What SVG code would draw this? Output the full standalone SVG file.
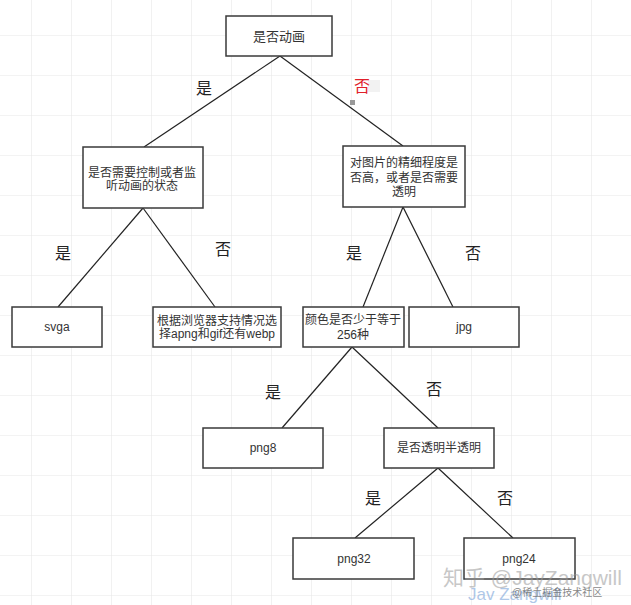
<svg xmlns="http://www.w3.org/2000/svg" width="631" height="605" viewBox="0 0 631 605">
<defs>
  <pattern id="grid" x="31" y="35" width="40" height="40" patternUnits="userSpaceOnUse">
    <path d="M0 0 H40 M0 0 V40" fill="none" stroke="#e8e8e8" stroke-width="1.2"/>
  </pattern>
</defs>
<style>
  .box { fill: #ffffff; stroke: #3a3a3a; stroke-width: 1.5; }
  .t { font-family: "Liberation Sans", "Noto Sans CJK SC", sans-serif; font-size: 12px; fill: #333; text-anchor: middle; }
  .lbl { font-family: "Noto Sans CJK SC", sans-serif; font-size: 16px; fill: #222; text-anchor: middle; }
  .edge { stroke: #222; stroke-width: 1.2; fill: none; }
</style>
<rect width="631" height="605" fill="#ffffff"/>
<rect width="631" height="605" fill="url(#grid)"/>

<g id="connectors">
  <line class="edge" x1="280" y1="56" x2="144" y2="147"/>
  <line class="edge" x1="280" y1="56" x2="403" y2="146"/>
  <line class="edge" x1="143" y1="208" x2="58" y2="307"/>
  <line class="edge" x1="143" y1="208" x2="215" y2="307"/>
  <line class="edge" x1="403" y1="207" x2="363" y2="307"/>
  <line class="edge" x1="403" y1="207" x2="453" y2="307"/>
  <line class="edge" x1="352" y1="347" x2="282" y2="428"/>
  <line class="edge" x1="352" y1="347" x2="438" y2="428"/>
  <line class="edge" x1="438" y1="468" x2="355" y2="538"/>
  <line class="edge" x1="438" y1="468" x2="513" y2="538"/>
  <text class="lbl" x="204" y="94">是</text>
  <rect x="350" y="100" width="5" height="5" fill="#999"/>
  <rect x="368" y="80" width="12" height="12" fill="#f2f2f2"/>
  <text class="lbl" x="362" y="92" style="fill:#e0202a">否</text>
  <text class="lbl" x="63" y="259">是</text>
  <text class="lbl" x="223" y="255">否</text>
  <text class="lbl" x="354" y="259">是</text>
  <text class="lbl" x="473" y="259">否</text>
  <text class="lbl" x="273" y="398">是</text>
  <text class="lbl" x="434" y="395">否</text>
  <text class="lbl" x="373" y="504">是</text>
  <text class="lbl" x="505" y="504">否</text>
</g>

<g id="n-animated">
  <rect class="box" x="226" y="16" width="106" height="40"/>
  <text class="t" x="279" y="41" style="font-size:13px">是否动画</text>
</g>
<g id="n-control">
  <rect class="box" x="83" y="147" width="120" height="61"/>
  <text class="t" x="142" y="177">是否需要控制或者监</text>
  <text class="t" x="142" y="190">听动画的状态</text>
</g>
<g id="n-fine">
  <rect class="box" x="343" y="146" width="122" height="61"/>
  <text class="t" x="404" y="167">对图片的精细程度是</text>
  <text class="t" x="404" y="182">否高，或者是否需要</text>
  <text class="t" x="404" y="196">透明</text>
</g>
<g id="n-svga">
  <rect class="box" x="12" y="307" width="90" height="40"/>
  <text class="t" x="57" y="331">svga</text>
</g>
<g id="n-browser">
  <rect class="box" x="153" y="307" width="128" height="40"/>
  <text class="t" x="217" y="325">根据浏览器支持情况选</text>
  <text class="t" x="217" y="338">择apng和gif还有webp</text>
</g>
<g id="n-colors">
  <rect class="box" x="303" y="307" width="101" height="40"/>
  <text class="t" x="353" y="324">颜色是否少于等于</text>
  <text class="t" x="353" y="339">256种</text>
</g>
<g id="n-jpg">
  <rect class="box" x="409" y="307" width="110" height="40"/>
  <text class="t" x="464" y="331">jpg</text>
</g>
<g id="n-png8">
  <rect class="box" x="203" y="428" width="120" height="40"/>
  <text class="t" x="263" y="452">png8</text>
</g>
<g id="n-alpha">
  <rect class="box" x="384" y="428" width="110" height="40"/>
  <text class="t" x="439" y="452">是否透明半透明</text>
</g>
<g id="n-png32">
  <rect class="box" x="293" y="538" width="121" height="41"/>
  <text class="t" x="354" y="563">png32</text>
</g>
<g id="n-png24">
  <rect class="box" x="464" y="538" width="111" height="41"/>
  <text class="t" x="519" y="563">png24</text>
</g>

<g id="watermark" font-family="Liberation Sans, Noto Sans CJK SC, sans-serif">
  <text x="443" y="585" font-size="21" fill="#9a9a9a" opacity="0.55">知乎 @JayZangwill</text>
  <text x="468" y="600" font-size="17" fill="#3a78c8" opacity="0.4">Jav Zangwill</text>
  <text x="512" y="596" font-size="10" fill="#555" opacity="0.7">@稀土掘金技术社区</text>
</g>
</svg>
